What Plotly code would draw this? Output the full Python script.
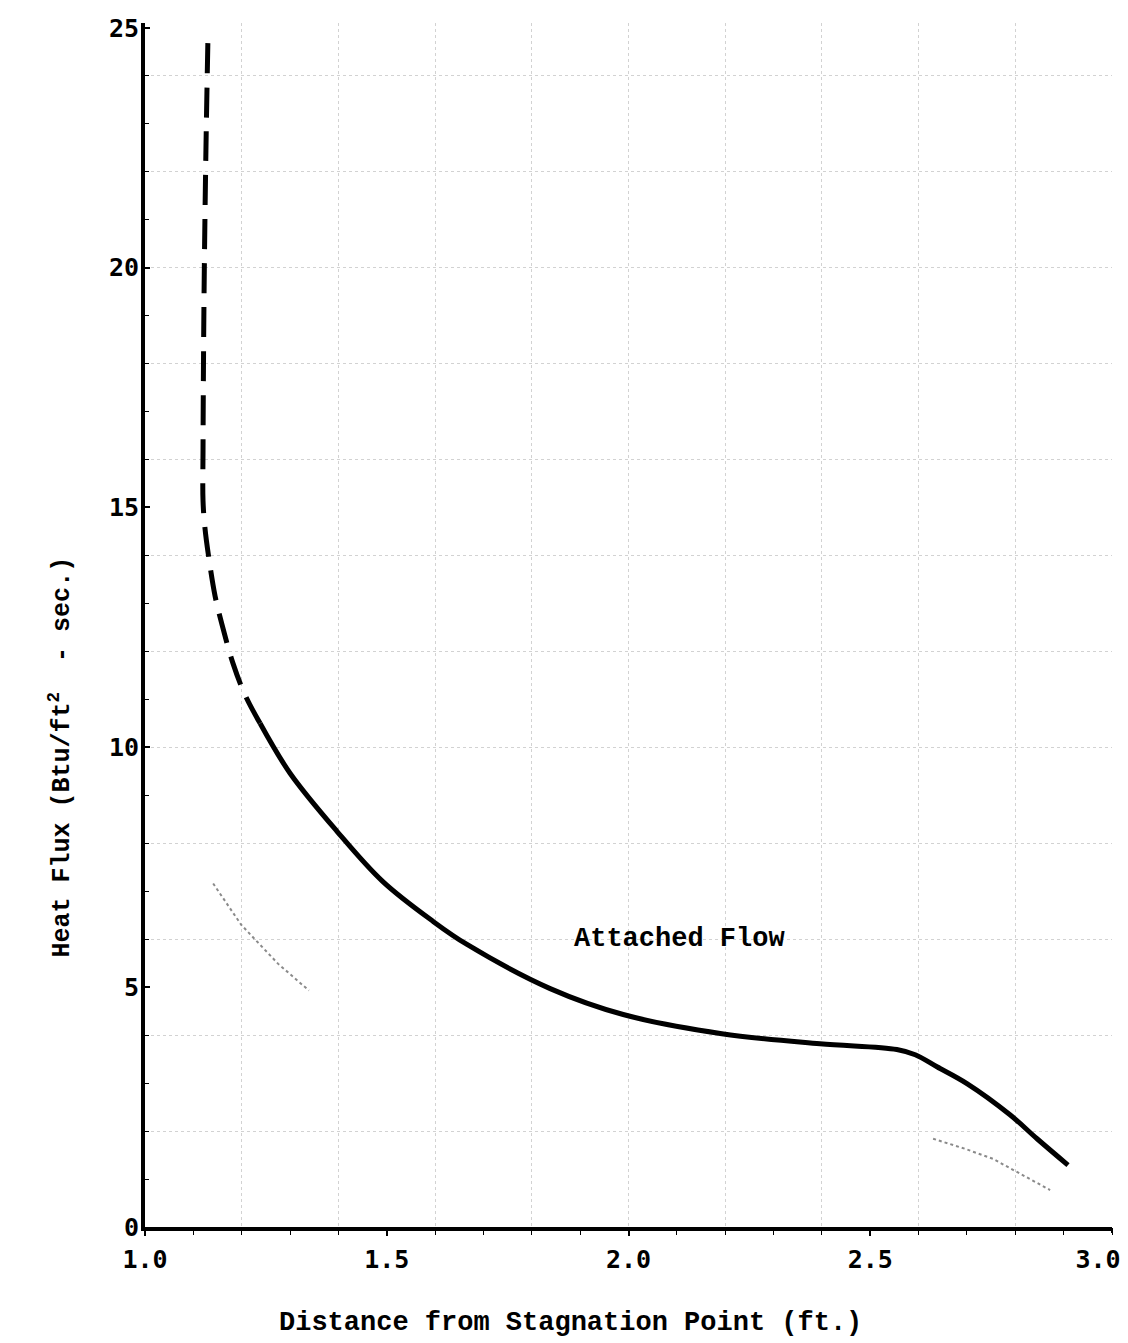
import plotly.graph_objects as go

# Dashed (extrapolated) portion of the heat-flux curve
dash_x = [1.130, 1.126, 1.122, 1.120, 1.120, 1.124, 1.132, 1.145, 1.159, 1.182, 1.207, 1.238]
dash_y = [24.68, 22.44, 19.31, 16.18, 15.14, 14.57, 13.95, 13.15, 12.57, 11.75, 11.09, 10.50]

# Solid portion (attached flow)
solid_x = [1.238, 1.300, 1.397, 1.492, 1.596, 1.666, 1.838, 1.989, 2.193, 2.396, 2.555,
           2.593, 2.638, 2.700, 2.789, 2.845, 2.909]
solid_y = [10.50, 9.46, 8.25, 7.20, 6.37, 5.89, 4.97, 4.43, 4.03, 3.82, 3.70,
           3.59, 3.34, 2.99, 2.34, 1.84, 1.29]

# Faint dotted traces visible in the scan
faint1_x = [1.141, 1.199, 1.275, 1.339]
faint1_y = [7.16, 6.30, 5.49, 4.93]
faint2_x = [2.630, 2.696, 2.754, 2.830, 2.872]
faint2_y = [1.84, 1.63, 1.42, 1.00, 0.77]

x_ticks = [1.0, 1.5, 2.0, 2.5]
x_tick_text = ["1.0", "1.5", "2.0", "2.5"]
x_end_tick = [3.0]
x_end_text = ["3.0"]
y_ticks = [0, 5, 10, 15, 20, 25]
y_tick_text = ["0", "5", "10", "15", "20", "25"]

label_font = "DejaVu Sans Mono"
type_font = "Liberation Mono, Courier New, monospace"
grid_col = "#d2d2d2"
tick_font = dict(family=label_font, size=25, color="black", weight="bold")

fig = go.Figure()
fig.add_trace(go.Scatter(x=faint1_x, y=faint1_y, mode="lines",
                         line=dict(color="#8a8a8a", width=2, dash="dot"), showlegend=False))
fig.add_trace(go.Scatter(x=faint2_x, y=faint2_y, mode="lines",
                         line=dict(color="#8a8a8a", width=2, dash="dot"), showlegend=False))
fig.add_trace(go.Scatter(x=dash_x, y=dash_y, mode="lines", line_shape="spline",
                         line=dict(color="black", width=5, dash="30px,14px"), showlegend=False))
fig.add_trace(go.Scatter(x=solid_x, y=solid_y, mode="lines", line_shape="spline",
                         line=dict(color="black", width=5), showlegend=False))
# invisible traces on the overlay axes so they render
fig.add_trace(go.Scatter(x=[1.0, 3.0], y=[0, 25], mode="markers", marker=dict(opacity=0),
                         xaxis="x2", yaxis="y2", showlegend=False, hoverinfo="skip"))
fig.add_trace(go.Scatter(x=[1.0, 3.0], y=[0, 25], mode="markers", marker=dict(opacity=0),
                         xaxis="x3", yaxis="y", showlegend=False, hoverinfo="skip"))

fig.add_annotation(x=2.1065, y=6.0, xref="x", yref="y", text="Attached Flow", showarrow=False,
                   font=dict(family=type_font, size=27, color="black", weight="bold"))

fig.add_annotation(x=-0.1065, y=0.390, xref="paper", yref="paper", textangle=-90,
                   text="Heat Flux (Btu/ft<sup>2</sup>&nbsp;&nbsp;-&nbsp;sec.)",
                   showarrow=False,
                   font=dict(family=type_font, size=25, color="black", weight="bold"))

fig.add_annotation(x=0.4405, y=-0.0797, xref="paper", yref="paper", yanchor="middle",
                   text="Distance from Stagnation Point (ft.)", showarrow=False,
                   font=dict(family=type_font, size=27, color="black", weight="bold"))

fig.update_layout(
    width=1128, height=1343,
    margin=dict(l=145, r=16, t=23, b=116, autoexpand=False),
    paper_bgcolor="white", plot_bgcolor="white",
    xaxis=dict(
        range=[1.0, 3.0], tickvals=x_ticks, ticktext=x_tick_text,
        showline=True, linecolor="black", linewidth=4,
        ticks="outside", ticklen=5, tickwidth=2, tickcolor="black",
        minor=dict(dtick=0.1, ticks="outside", ticklen=4, tickcolor="black", tickwidth=1,
                   showgrid=False),
        showgrid=False, zeroline=False, ticklabelstandoff=2, automargin=False,
        tickfont=tick_font,
    ),
    xaxis3=dict(
        overlaying="x", side="bottom", anchor="y", range=[1.0, 3.0],
        tickvals=x_end_tick, ticktext=x_end_text, ticklabelshift=-14,
        ticks="outside", ticklen=5, tickwidth=2, tickcolor="black",
        showgrid=False, showline=False, zeroline=False, ticklabelstandoff=5,
        automargin=False, tickfont=tick_font,
    ),
    yaxis=dict(
        range=[0, 25.1], tickvals=y_ticks, ticktext=y_tick_text,
        showline=True, linecolor="black", linewidth=4,
        ticks="inside", ticklen=5, tickwidth=2, tickcolor="black",
        minor=dict(dtick=1, ticks="inside", ticklen=4, tickcolor="black", tickwidth=1,
                   showgrid=False),
        showgrid=False, zeroline=False, ticklabelstandoff=-3, automargin=False,
        tickfont=tick_font,
    ),
    xaxis2=dict(overlaying="x", range=[1.0, 3.0], dtick=0.2, tick0=1.0, automargin=False,
                showgrid=True, gridcolor=grid_col, griddash="dot", gridwidth=1,
                showticklabels=False, ticks="", showline=False, zeroline=False),
    yaxis2=dict(overlaying="y", range=[0, 25.1], dtick=2, tick0=0, automargin=False,
                showgrid=True, gridcolor=grid_col, griddash="dot", gridwidth=1,
                showticklabels=False, ticks="", showline=False, zeroline=False),
)

fig.write_html("out.html")
